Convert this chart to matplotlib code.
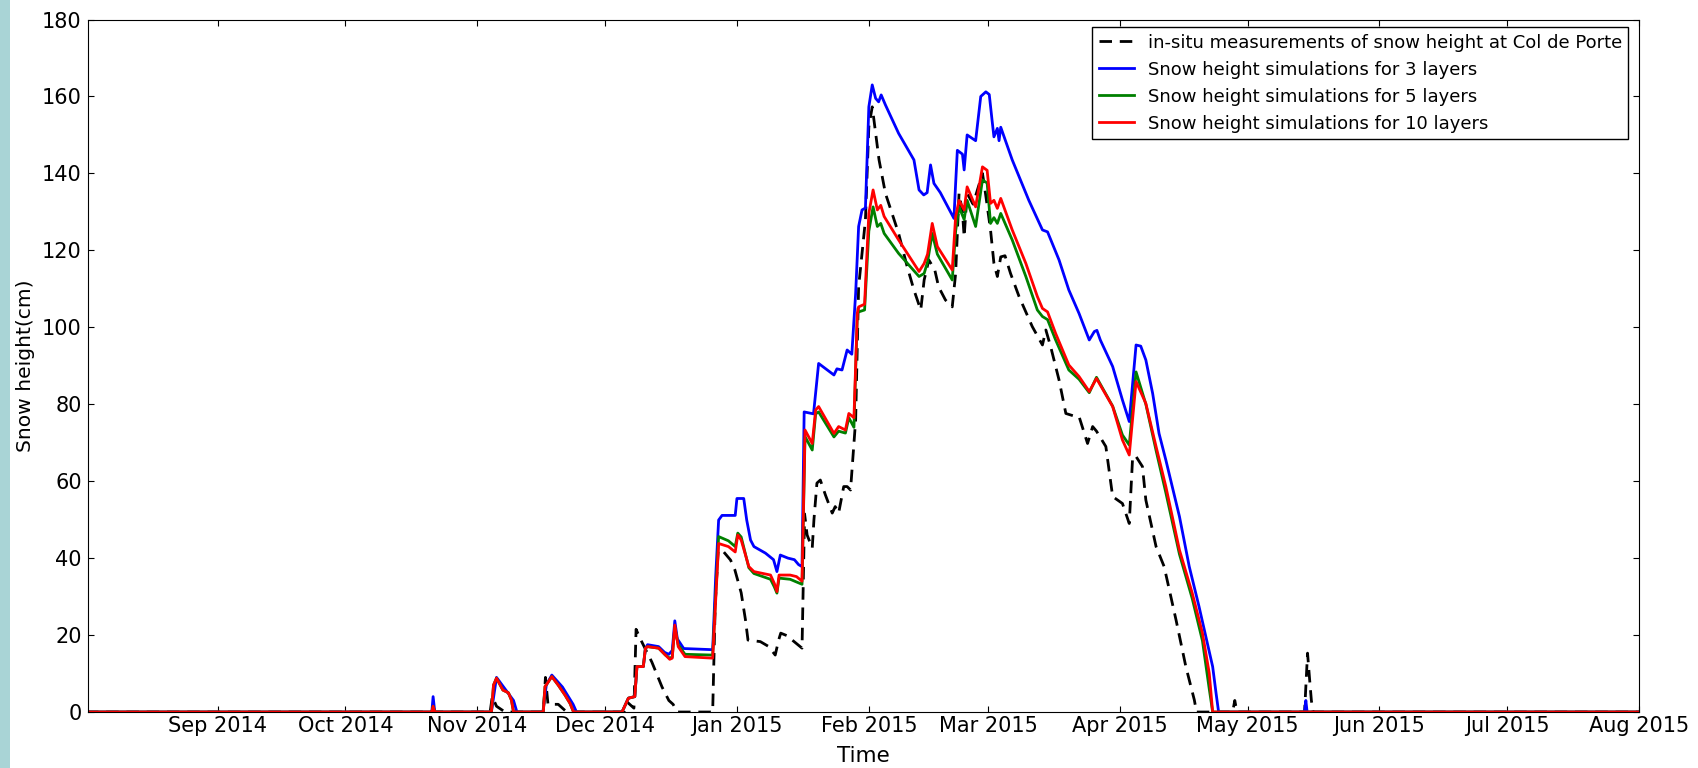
import numpy as np
import pandas as pd
import matplotlib
matplotlib.use("Agg")
import matplotlib.pyplot as plt
import matplotlib.dates as mdates
from matplotlib.patches import Rectangle

START = pd.Timestamp("2014-08-01")

# days since 2014-08-01 / snow height in cm
obs_day = [0, 95.0, 95.5, 96.5, 98.5,
           107.5, 108.0, 108.6, 111.0, 113.0,
           126.5, 127.3, 128.8, 129.3, 130.3, 133.0, 135.4, 137.0, 138.0, 139.0,
           147.3, 147.9, 148.6, 149.6, 151.5, 152.5, 154.0, 155.0, 155.6, 158.5,
           160.5, 162.0, 162.8, 163.3, 165.3, 166.0, 168.3,
           168.9, 169.5, 170.7, 171.1, 171.8, 172.6, 173.8, 175.4, 176.1, 176.9,
           178.1, 178.9, 179.7,
           180.9, 181.6, 182.4, 183.2, 184.0, 184.8, 185.2, 186.4, 187.9, 191.0,
           193.0, 194.6, 196.2, 197.0, 198.1, 199.5, 200.4, 202.0, 203.6, 204.4,
           205.2, 206.0, 206.4, 207.1, 208.5, 210.7, 211.2, 212.6, 213.4, 214.2,
           215.0, 216.0, 217.3, 219.3, 222.4, 224.8, 225.6, 226.7, 228.7, 230.3,
           232.6, 233.4, 235.4, 236.6, 237.5, 239.7, 241.3, 243.6, 245.2, 246.0,
           246.8, 248.3, 249.1, 251.5, 253.4, 256.2, 258.5, 260.5, 261.0,
           269.5, 270.0, 270.5,
           286.4, 287.1, 287.6, 288.0, 288.4,
           365]
obs_cm = [0, 0, 4, 1.5, 0,
          0, 9, 2, 2, 0,
          0, 2.5, 1, 21.5, 19, 13, 6.5, 3, 2, 0,
          0, 28, 42, 42, 39.5, 37, 31, 24, 18.7, 18.3,
          17, 14.8, 18.7, 20.5, 19.6, 18.7, 16.6,
          51.5, 46, 42.6, 50, 59.5, 60.3, 56.4, 51.7, 53.4, 51.7,
          58.6, 58.6, 57.7,
          75.9, 110.5, 119.2, 127.9, 152.1, 157.3, 153.9, 143.5, 134.8, 124.4,
          115.8, 109.7, 104.5, 112.3, 117.5, 114.9, 110.5, 107.1, 105.3, 114,
          134.8, 130, 123.5, 134.8, 132, 140, 136.5, 125.3, 116.6, 113.2,
          118.3, 118.6, 114, 108, 100.2, 95.4, 99.3, 95.1, 86.3, 77.6,
          76.8, 76.8, 69.8, 74.2, 73, 69, 56, 54.2, 49, 66.4,
          66.4, 63.8, 55.1, 43, 37.8, 23.9, 11.8, 3.1, 0,
          0, 3, 0,
          0, 15.3, 8.3, 3, 0,
          0]

l3_day = [0, 81.3, 81.6, 82.0,
          95.3, 96.5, 98.5, 100.5, 101.3,
          107.4, 108.2, 109.5, 112.0, 114.5, 115.3,
          126.0, 127.5, 129.0, 129.5, 131.0, 131.5, 132.0, 134.6, 136.0, 137.0,
          137.8, 138.4, 139.0, 140.5, 147.3,
          148.0, 148.7, 149.5, 152.6, 153.0, 154.6, 155.3, 156.2, 157.0, 159.7,
          161.6, 162.4, 163.2, 165.0, 166.5, 167.5, 168.3,
          168.8, 171.0, 172.2, 175.8, 176.5, 177.7, 178.9, 180.0, 180.9, 181.6,
          182.4, 183.2, 184.0, 184.8, 185.6, 186.3, 186.9, 187.9, 191.0, 194.6,
          195.8, 196.9, 197.7, 198.5, 199.3, 200.8, 204.0, 204.4, 204.8, 206.0,
          206.4, 207.1, 209.1, 210.3, 211.5, 212.3, 213.0, 213.4, 214.2, 214.6,
          215.0, 217.7, 221.6, 224.8, 226.0, 228.7, 231.0, 233.4, 235.8, 237.0,
          237.6, 238.4, 241.3, 243.6, 245.2, 246.8, 247.9, 249.1, 250.7, 252.2,
          253.8, 257.0, 259.3, 261.6, 263.2, 264.8, 265.6, 266.2,
          286.4, 286.7, 287.0, 365]
l3_cm = [0, 0, 4, 0,
         0, 9, 6, 3, 0,
         0, 7, 9.6, 6.5, 2, 0,
         0, 3.6, 4, 11.8, 11.8, 16.5, 17.5, 17, 15.5, 15,
         16, 23.7, 19, 16.5, 16.2,
         35, 49.9, 51.1, 51.1, 55.5, 55.5, 49.9, 44.7, 43, 41.3,
         39.6, 36.5, 40.8, 40, 39.6, 38.3, 37.8,
         78, 77.5, 90.6, 87.6, 89.2, 88.9, 94.1, 93, 108.8, 126.2,
         130.5, 131, 157.3, 163, 159.5, 158.6, 160.4, 157.8, 150.4, 143.5,
         135.7, 134.4, 135, 142.2, 137.4, 135, 128.3, 137.4, 146, 145,
         140.9, 150, 148.5, 160, 161.2, 160.5, 153.4, 149.5, 151.7, 148.5,
         152, 143.5, 133, 125.3, 124.8, 117.5, 109.7, 103.6, 96.7, 98.9,
         99.2, 96.7, 89.8, 81.1, 75.5, 95.4, 95.1, 91.5, 82.8, 72.4,
         65.5, 50.8, 37.8, 27.4, 19.6, 11.8, 4.9, 0,
         0, 3, 0, 0]

l10_day = [0, 81.3, 81.6, 82.0,
           95.3, 95.8, 96.5, 98.0, 99.3, 100.0, 100.5,
           107.5, 107.9, 109.5, 111.0, 112.6, 113.8, 114.6,
           126.0, 127.5, 129.0, 129.5, 131.0, 131.5, 132.0, 134.6, 136.2, 137.2,
           137.8, 138.4, 139.2, 140.8, 147.3,
           148.7, 151.0, 152.6, 153.2, 154.0, 155.8, 157.0, 160.9, 161.8, 162.4,
           162.9, 165.5, 167.0, 168.3,
           169.0, 170.7, 171.5, 172.2, 175.8, 176.9, 178.5, 179.3, 180.5, 181.3,
           181.6, 183.0, 184.0, 185.0, 186.0, 186.8, 187.6, 191.0, 195.8, 197.0,
           197.8, 198.9, 200.1, 203.6, 204.4, 205.2, 206.4, 207.1, 209.1, 210.7,
           211.8, 212.6, 213.4, 214.2, 215.0, 217.7, 220.9, 223.6, 224.8, 226.0,
           227.9, 231.0, 233.4, 235.8, 237.5, 241.3, 243.6, 245.2, 246.8, 249.1,
           251.5, 253.8, 257.0, 260.0, 262.4, 264.0, 264.8,
           365]
l10_cm = [0, 0, 1.5, 0,
          0, 7, 8.8, 5.7, 5, 3.1, 0,
          0, 6.6, 9.2, 7, 4.4, 2.2, 0,
          0, 3.6, 4, 11.8, 11.8, 16.6, 17, 16.6, 14.8, 13.7,
          14, 22.6, 17, 14.4, 14,
          43.8, 43, 41.6, 46, 44.7, 37.8, 36.5, 35.6, 33.4, 31.3,
          35.6, 35.6, 35.2, 34,
          73.3, 69.8, 78.5, 79.4, 72.4, 74.2, 73.3, 77.6, 76.5, 103.6,
          105.3, 106, 129.6, 135.7, 130.5, 131.7, 128.8, 122.7, 114.5, 116.6,
          119, 127, 121, 114.9, 128.8, 133, 130.5, 136.5, 131.3, 141.7,
          140.8, 132.2, 133, 130.9, 133.5, 125.3, 116.6, 108, 104.9, 104,
          98.4, 90.2, 87.2, 83.3, 86.7, 79.4, 70.7, 66.8, 85.9, 80.2,
          69, 58.6, 42.1, 30.9, 20.5, 10.1, 0,
          0]

l5_day = l10_day
l5_cm = [0, 0, 1.5, 0,
         0, 7, 8.8, 5.7, 5, 3.1, 0,
         0, 6.6, 9.2, 7, 4.4, 2.2, 0,
         0, 3.6, 4, 11.8, 11.8, 16.6, 17, 16.6, 14.8, 14,
         14.3, 22, 17.5, 15, 14.8,
         45.6, 44.5, 43, 46.5, 45.5, 37.5, 36, 34.5, 32.5, 30.9,
         34.8, 34.5, 33.8, 33.2,
         71.6, 68.1, 77.5, 78, 71.5, 73, 72.5, 76.5, 74, 103.6,
         104, 104.5, 125, 131.3, 126.2, 127, 124.4, 119.2, 113.2, 114,
         117, 124.4, 119, 112.3, 125, 131.3, 128, 133, 126.2, 138.3,
         137.5, 127, 128.5, 127, 129.6, 122.7, 113.2, 104.5, 102.8, 102,
         96.7, 88.9, 86.5, 83, 87, 79.5, 72, 69.4, 88.4, 80,
         68, 57, 41, 29.5, 18.5, 6, 0,
         0]


def to_dates(days):
    return START + pd.to_timedelta(np.asarray(days, dtype=float), unit="D")


fig = plt.figure(figsize=(16.99, 7.68), dpi=100)
# pale strip on the left edge of the slide
fig.patches.append(Rectangle((0, 0), 10 / 1699, 1, transform=fig.transFigure,
                             facecolor="#a9d4d6", edgecolor="none"))
ax = fig.add_axes([0.0518, 0.0729, 0.9129, 0.9017])

ax.plot(to_dates(obs_day), obs_cm, color="black", linewidth=2, dashes=(4.5, 2.8),
        label="in-situ measurements of snow height at Col de Porte")
ax.plot(to_dates(l3_day), l3_cm, color="blue", linewidth=2,
        label="Snow height simulations for 3 layers")
ax.plot(to_dates(l5_day), l5_cm, color="green", linewidth=2,
        label="Snow height simulations for 5 layers")
ax.plot(to_dates(l10_day), l10_cm, color="red", linewidth=2,
        label="Snow height simulations for 10 layers")

ax.set_xlim(pd.Timestamp("2014-08-01 12:00"), pd.Timestamp("2015-08-01"))
ax.set_ylim(0, 180)
ax.set_yticks(range(0, 181, 20))
ax.xaxis.set_major_locator(mdates.MonthLocator())
ax.xaxis.set_major_formatter(mdates.DateFormatter("%b %Y"))
ax.tick_params(direction="in", top=True, right=True, length=4, labelsize=15)
ax.tick_params(axis="x", pad=3)
ax.tick_params(axis="y", pad=4.5)
ax.set_xlabel("Time", fontsize=15.5, labelpad=7)
ax.set_ylabel("Snow height(cm)", fontsize=14.6, labelpad=5)

leg = ax.legend(loc="upper right", fontsize=13, fancybox=False, framealpha=1,
                edgecolor="black", borderaxespad=0, borderpad=0.36,
                labelspacing=0.5, handlelength=1.95, handletextpad=0.75,
                bbox_to_anchor=(1628.5 / 1699, 1 - 27 / 768),
                bbox_transform=fig.transFigure)
leg.get_frame().set_linewidth(1)

fig.savefig("out.png", dpi=100)
